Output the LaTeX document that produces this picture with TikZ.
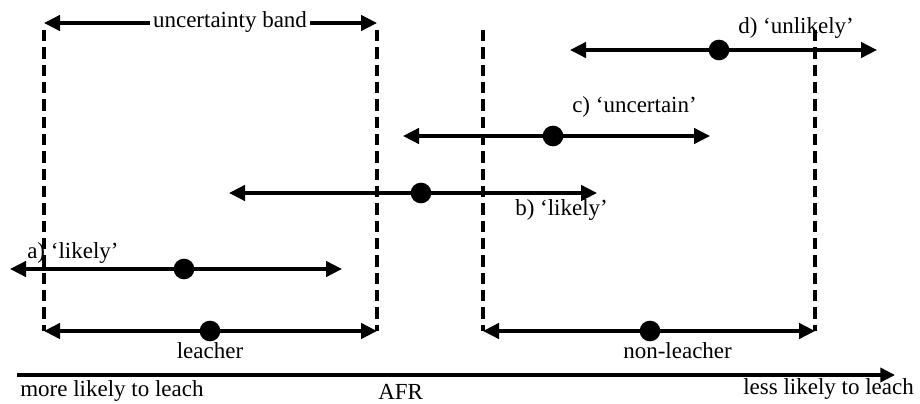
\documentclass[tikz,border=0pt]{standalone}
\usepackage{fontspec}
\setmainfont{Liberation Serif}
\usetikzlibrary{arrows.meta}
\begin{document}
\begin{tikzpicture}[x=0.75pt,y=-0.75pt,
  lbl/.style={font=\fontsize{17.25}{20}\selectfont, inner sep=0pt},
  dbl/.style={line width=2.6pt, {Triangle[length=12pt,width=11.5pt]}-{Triangle[length=12pt,width=11.5pt]}},
  axisarrow/.style={line width=2.6pt, -{Triangle[length=11pt,width=10.5pt]}},
  bandline/.style={line width=2.6pt, dash pattern=on 8.5pt off 4.5pt},
  dot/.style={circle, fill=black, draw=none, minimum size=15.5pt, inner sep=0pt}]
\useasboundingbox (0,0) rectangle (920,403);

% labels
\node[lbl, anchor=base west] (dlab) at (738,34) {d) ‘unlikely’};
\node[lbl, anchor=base west] (clab) at (572,112) {c) ‘uncertain’};
\node[lbl, anchor=base west] (blab) at (515,215) {b) ‘likely’};
\node[lbl, anchor=base west] (alab) at (27,258) {a) ‘likely’};
\node[lbl, anchor=base] (leach) at (210,358) {leacher};
\node[lbl, anchor=base west] (nonleach) at (623,358) {non-leacher};
\node[lbl, anchor=base west] (more) at (20,396) {more likely to leach};
\node[lbl, anchor=base west] (afr) at (378,399) {AFR};
\node[lbl, anchor=base west] (less) at (743,394) {less likely to leach};

% dashed band boundaries
\coordinate (v1t) at (44,30);  \coordinate (v1b) at (44,331);
\coordinate (v2t) at (377,30); \coordinate (v2b) at (377,331);
\coordinate (v3t) at (483,30); \coordinate (v3b) at (483,331);
\coordinate (v4t) at (815,30); \coordinate (v4b) at (815,331);
\draw[bandline] (v1t) -- (v1b);
\draw[bandline] (v2t) -- (v2b);
\draw[bandline] (v3t) -- (v3b);
\draw[bandline] (v4t) -- (v4b);

% uncertainty band
\coordinate (uL) at (44,23); \coordinate (uR) at (377,23);
\draw[dbl] (uL) -- (uR);
\node[lbl, anchor=base, fill=white, inner xsep=2.5pt, inner ysep=1pt] (ulab) at (230,28) {uncertainty band};

% d)
\coordinate (dL) at (570,50); \coordinate (dR) at (877,50);
\draw[dbl] (dL) -- (dR);
\node[dot] (dD) at (719,50) {};

% c)
\coordinate (cL) at (403,136); \coordinate (cR) at (710,136);
\draw[dbl] (cL) -- (cR);
\node[dot] (cD) at (553,136) {};

% b)
\coordinate (bL) at (229,193); \coordinate (bR) at (597,193);
\draw[dbl] (bL) -- (bR);
\node[dot] (bD) at (421,193) {};

% a)
\coordinate (aL) at (10,269); \coordinate (aR) at (342,269);
\draw[dbl] (aL) -- (aR);
\node[dot] (aD) at (184,269) {};

% leacher
\coordinate (lL) at (44,331); \coordinate (lR) at (377,331);
\draw[dbl] (lL) -- (lR);
\node[dot] (lD) at (210,331) {};

% non-leacher
\coordinate (nL) at (483,331); \coordinate (nR) at (815,331);
\draw[dbl] (nL) -- (nR);
\node[dot] (nD) at (650,331) {};

% AFR axis
\coordinate (xL) at (17,375); \coordinate (xR) at (895,375);
\draw[axisarrow] (xL) -- (xR);
\end{tikzpicture}
\end{document}
